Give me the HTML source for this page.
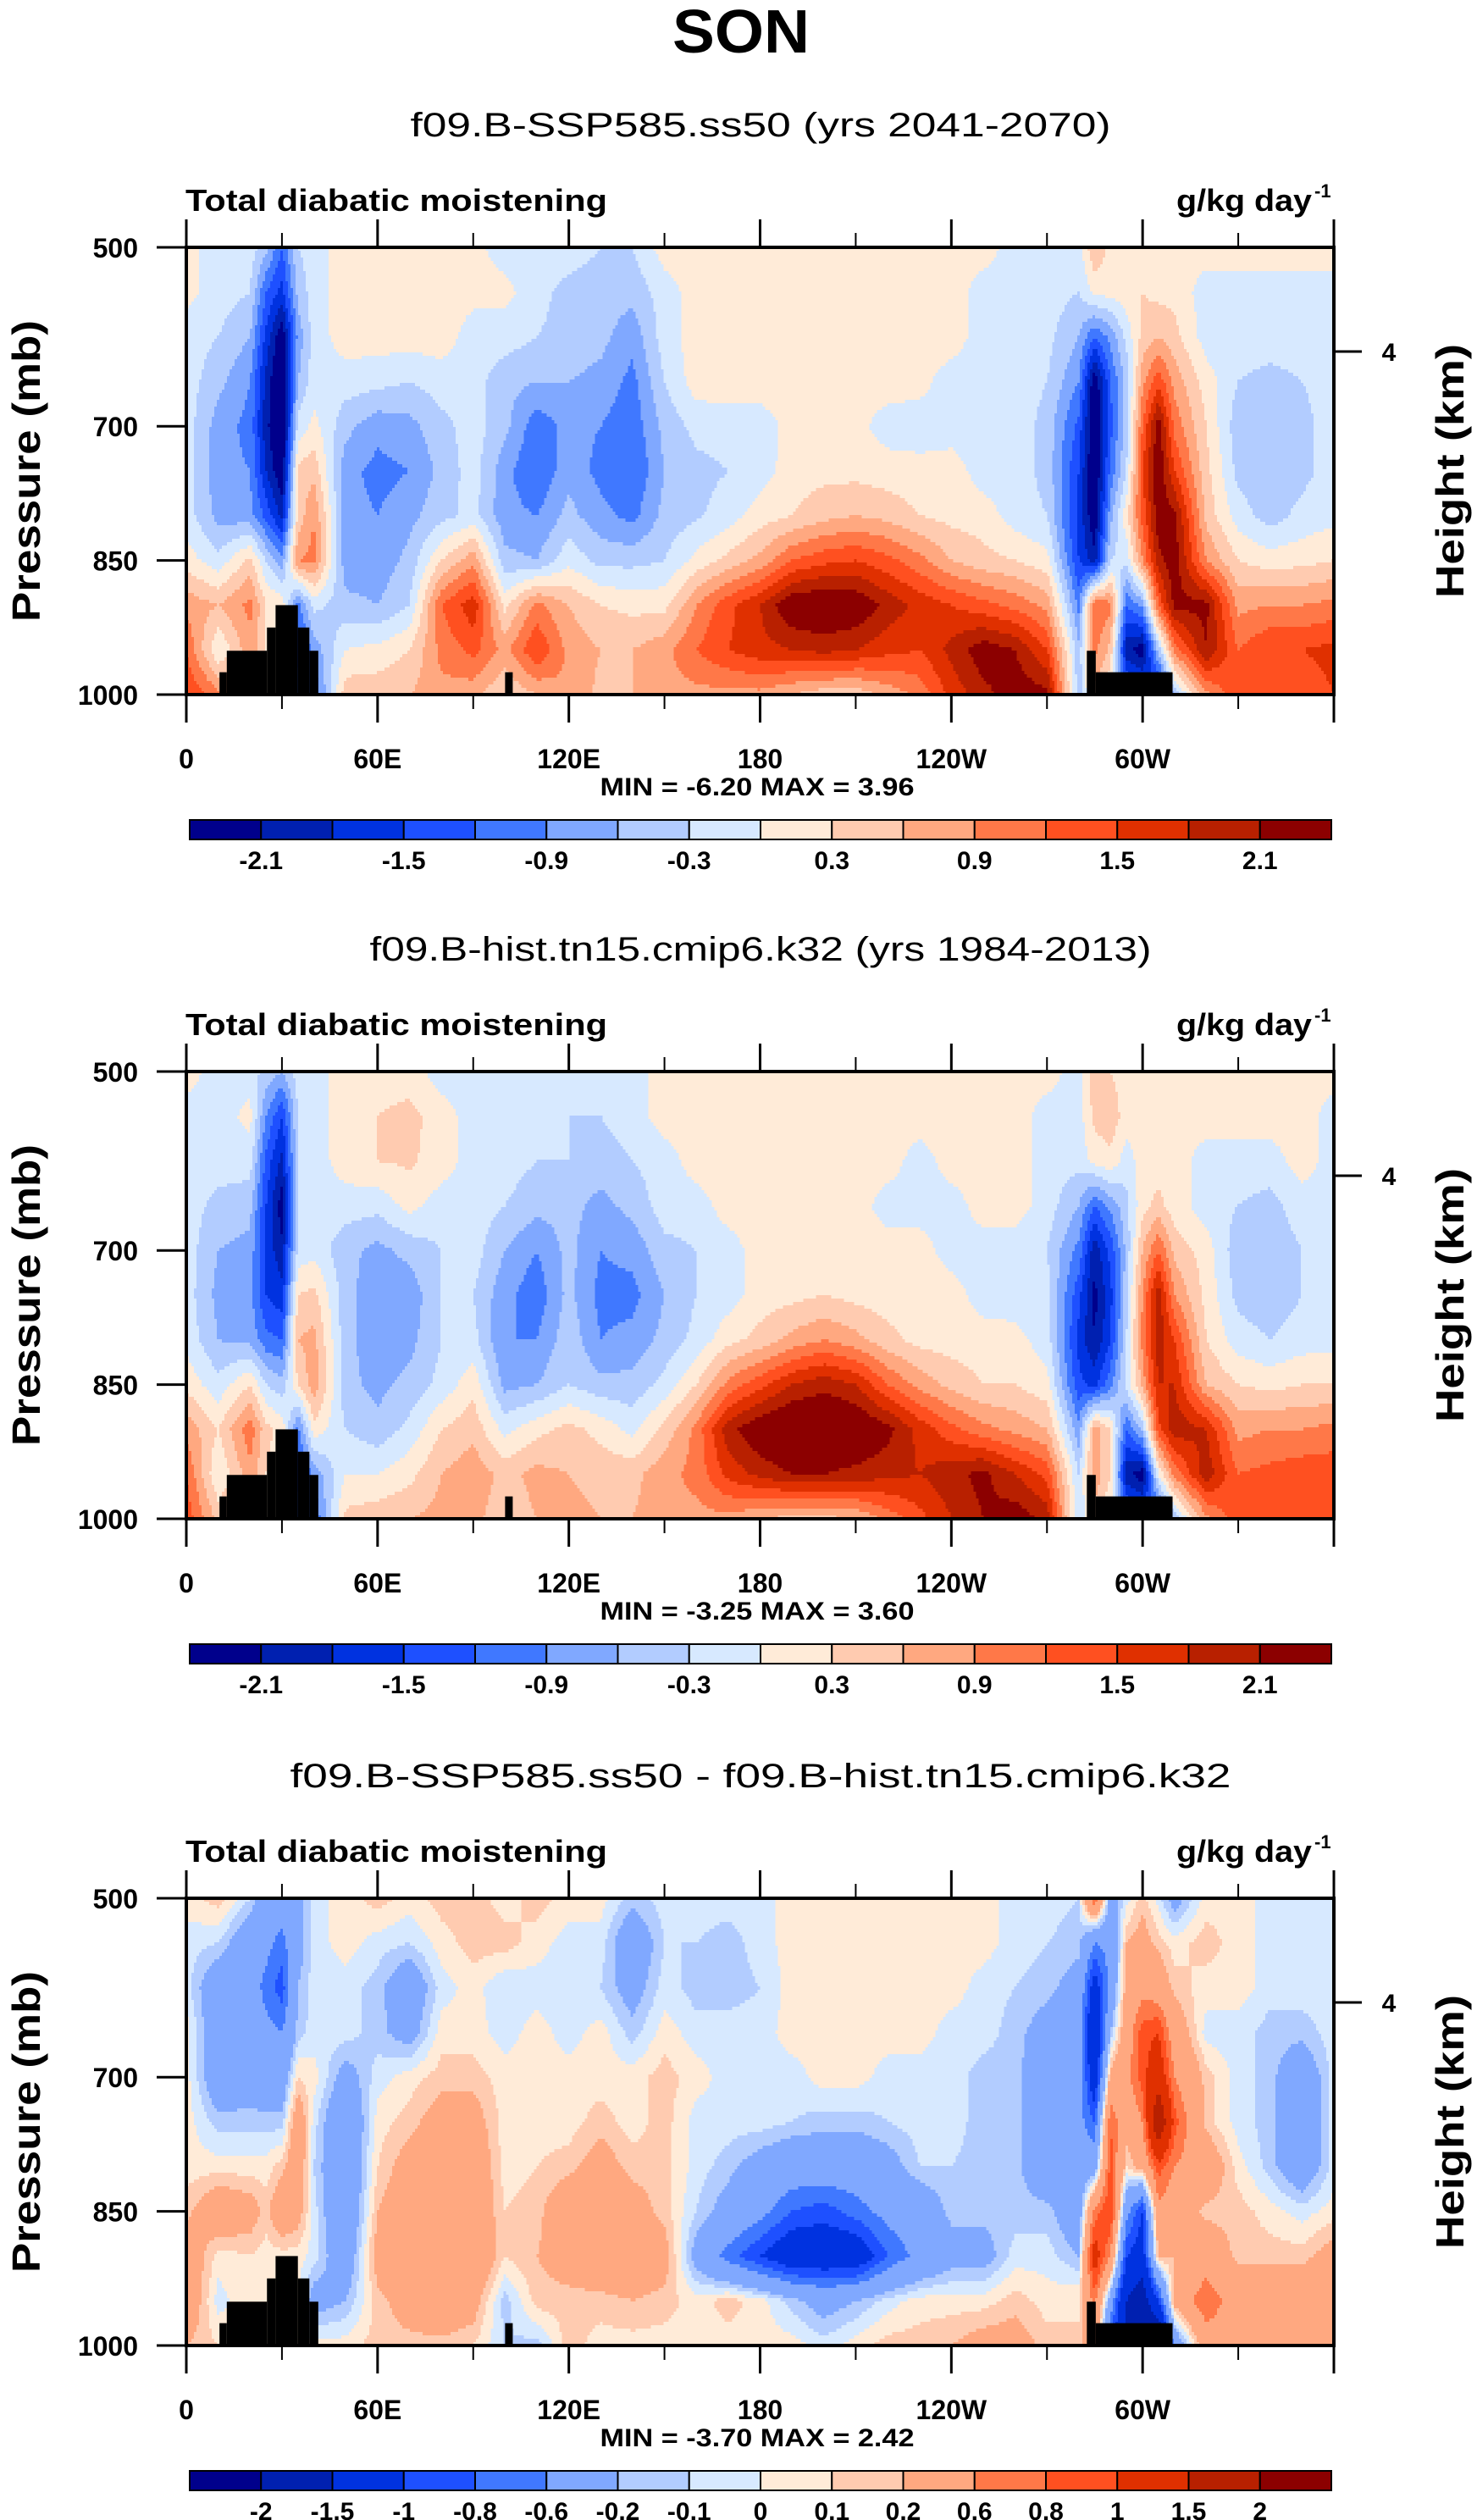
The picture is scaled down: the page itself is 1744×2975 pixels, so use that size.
<!DOCTYPE html>
<html><head><meta charset="utf-8"><title>SON Total diabatic moistening</title>
<style>
html,body{margin:0;padding:0;background:#fff;}
svg{display:block;font-family:"Liberation Sans",Arial,sans-serif;}
</style></head>
<body>
<svg id="fig" xmlns="http://www.w3.org/2000/svg" width="1744" height="2975" viewBox="0 0 1744 2975">
<rect x="0" y="0" width="1744" height="2975" fill="#fff"/>
<text x="875" y="62" text-anchor="middle" font-size="72" font-weight="bold" textLength="162" lengthAdjust="spacingAndGlyphs">SON</text>
</svg>
<script>
// ---------- data ----------
const LONS = [0,10,20,25,30,35,40,50,60,70,80,90,100,110,120,130,140,150,160,170,180,190,200,210,220,230,240,250,260,270,280,285,290,295,300,305,310,320,330,340,350,360];
const LEVELS = [500,550,600,650,700,750,800,850,900,950,1000];
const p1Data = [
[0.1,0.1,-0.15,-0.15,-0.15,-0.15,-0.15,0.15,0.8,1.2,1.5],
[-0.15,-0.15,-0.3,-0.5,-0.75,-0.8,-0.7,-0.2,0.6,0.0,1.0],
[-0.15,-0.3,-0.6,-0.9,-1.0,-0.9,-0.8,0.4,1.0,0.8,0.8],
[-0.5,-1.2,-1.6,-1.9,-2.0,-1.8,-1.3,-0.3,0.3,0.3,0.3],
[-1.2,-1.6,-2.4,-2.6,-2.6,-2.4,-1.9,-0.8,0.2,0.0,0.0],
[-0.3,-0.5,-0.8,-0.6,-0.2,0.4,0.4,0.9,-1.0,-1.5,-1.0],
[-0.15,-0.15,-0.15,-0.15,0.1,0.5,0.9,1.0,-0.2,-0.8,-1.2],
[0.15,0.15,0.15,-0.15,-0.5,-0.8,-0.8,-0.8,-0.5,0.0,0.5],
[0.15,0.15,0.15,-0.2,-0.8,-1.0,-0.9,-0.8,-0.6,0.1,0.5],
[0.15,0.2,0.15,-0.3,-0.7,-0.9,-0.7,-0.5,-0.3,0.3,0.6],
[0.15,0.15,0.15,-0.15,-0.4,-0.5,-0.4,0.3,1.2,1.0,0.8],
[0.1,0.1,-0.15,-0.15,-0.15,-0.15,-0.2,0.8,1.7,1.3,0.7],
[-0.15,0.1,-0.15,-0.5,-0.5,-0.8,-0.8,-0.5,0.2,0.8,0.3],
[-0.15,-0.2,-0.3,-0.6,-1.1,-1.2,-0.9,-0.6,1.0,1.5,0.6],
[-0.15,-0.4,-0.4,-0.6,-0.8,-0.7,-0.5,-0.1,0.6,0.8,0.9],
[-0.3,-0.45,-0.5,-0.7,-0.9,-1.0,-0.8,-0.4,0.3,0.6,0.5],
[-0.3,-0.5,-0.8,-1.0,-1.1,-1.2,-1.0,-0.4,0.2,0.6,0.6],
[0.15,-0.15,-0.15,-0.3,-0.5,-0.6,-0.5,-0.3,0.2,0.8,0.8],
[0.15,0.15,0.15,0.15,-0.2,-0.4,-0.35,0.1,0.9,1.2,0.8],
[0.15,0.15,0.15,0.15,-0.15,-0.3,-0.15,0.4,1.4,1.5,0.8],
[0.15,0.15,0.15,0.15,-0.15,-0.15,0.15,0.7,1.8,1.7,0.8],
[0.15,0.15,0.15,0.15,0.1,0.15,0.3,1.2,2.4,1.8,0.6],
[0.15,0.15,0.15,0.15,0.1,0.2,0.5,1.4,2.5,1.9,0.4],
[0.15,0.15,0.15,0.15,0.1,0.2,0.6,1.5,2.4,1.8,0.4],
[0.15,0.15,0.15,0.15,-0.15,0.15,0.5,1.3,2.0,1.6,0.7],
[0.15,0.15,0.15,0.1,-0.15,0.1,0.3,1.0,1.7,1.5,1.0],
[0.15,0.15,0.15,-0.15,-0.15,0.15,0.2,0.6,1.5,1.9,1.6],
[0.15,-0.15,-0.15,-0.15,-0.15,-0.15,0.15,0.4,1.3,2.3,2.0],
[-0.15,-0.15,-0.15,-0.15,-0.15,-0.15,-0.15,0.3,1.1,2.1,2.3],
[-0.15,-0.15,-0.2,-0.3,-0.4,-0.4,-0.3,0.1,0.8,1.5,2.2],
[-0.15,-0.3,-0.6,-0.9,-1.3,-1.5,-1.6,-1.5,-1.0,-0.5,-0.5],
[0.6,0.1,-1.2,-2.4,-2.5,-2.5,-2.4,-2.0,1.2,1.0,0.5],
[0.2,0.1,-0.8,-1.2,-1.3,-1.1,-0.7,-0.3,1.0,0.5,0.0],
[0.15,0.2,-0.2,-0.5,-0.4,-0.3,0.2,-0.2,-1.2,-2.0,-1.0],
[0.2,0.3,0.4,0.8,1.2,1.5,1.3,0.9,-0.8,-2.3,-1.2],
[0.15,0.2,0.6,1.4,2.3,2.4,2.3,2.0,1.2,-0.5,-2.0],
[0.15,0.2,0.4,0.8,1.1,1.5,2.2,2.3,2.2,1.0,-0.5],
[0.15,-0.15,-0.15,0.15,0.3,0.4,0.5,0.9,2.2,2.1,0.8],
[0.15,-0.15,-0.15,-0.3,-0.5,-0.4,-0.15,0.3,0.8,1.2,1.5],
[0.15,-0.15,-0.15,-0.4,-0.5,-0.5,-0.45,0.15,0.9,1.5,1.4],
[0.15,-0.15,-0.15,-0.3,-0.4,-0.4,-0.2,0.2,0.9,1.5,1.3],
[0.15,-0.15,-0.15,-0.15,-0.15,-0.15,-0.1,0.3,1.0,1.6,1.5]
];
const p2Data = [
[0.15,-0.15,-0.15,-0.15,-0.15,-0.15,-0.1,0.2,0.8,1.2,1.4],
[-0.15,-0.15,-0.15,-0.4,-0.6,-0.7,-0.6,-0.2,0.3,0.0,0.5],
[-0.15,0.1,-0.15,-0.5,-0.7,-0.8,-0.7,0.3,1.1,0.8,0.8],
[-0.4,-0.9,-1.3,-1.5,-1.6,-1.5,-1.1,-0.3,0.4,0.3,0.3],
[-0.6,-1.5,-1.9,-2.3,-2.0,-1.7,-1.2,-0.5,0.2,0.0,0.0],
[-0.15,-0.3,-0.3,-0.3,-0.2,0.3,0.6,0.3,-1.0,-1.5,-1.0],
[-0.15,-0.15,-0.15,-0.15,-0.1,0.4,0.7,0.8,0.2,-0.8,-1.2],
[0.15,0.15,0.15,-0.15,-0.5,-0.5,-0.5,-0.5,-0.3,0.0,0.4],
[0.15,0.3,0.3,-0.2,-0.7,-0.8,-0.8,-0.7,-0.5,0.0,0.5],
[0.15,0.4,0.35,0.1,-0.5,-0.8,-0.7,-0.5,-0.2,0.2,0.6],
[-0.15,0.15,0.15,-0.15,-0.3,-0.3,-0.3,-0.2,0.3,0.6,0.7],
[-0.15,-0.15,-0.15,-0.15,-0.15,-0.3,-0.2,0.2,0.5,0.8,0.7],
[-0.3,-0.15,-0.15,-0.3,-0.6,-0.8,-0.9,-0.7,-0.1,0.5,0.4],
[-0.15,-0.15,-0.3,-0.5,-0.9,-1.1,-0.9,-0.6,0.2,0.7,0.6],
[-0.15,-0.3,-0.3,-0.5,-0.5,-0.5,-0.4,-0.3,0.4,0.6,0.7],
[-0.3,-0.3,-0.45,-0.7,-0.9,-1.0,-0.9,-0.5,0.2,0.5,0.6],
[-0.15,-0.15,-0.3,-0.5,-0.8,-1.0,-0.8,-0.5,-0.1,0.5,0.6],
[0.15,0.15,-0.15,-0.15,-0.4,-0.6,-0.5,-0.2,0.4,0.8,0.8],
[0.15,0.15,0.15,-0.15,-0.3,-0.3,-0.2,0.3,1.0,1.0,0.8],
[0.15,0.15,0.15,0.15,-0.15,-0.15,0.2,1.0,2.0,1.6,0.8],
[0.15,0.15,0.15,0.15,0.15,0.15,0.4,1.4,2.4,1.9,0.6],
[0.15,0.15,0.15,0.15,0.15,0.2,0.7,1.8,2.6,2.1,0.5],
[0.15,0.15,0.15,0.15,0.15,0.3,0.9,2.0,2.6,2.1,0.5],
[0.15,0.15,0.15,0.15,0.15,0.2,0.7,1.8,2.5,2.0,0.6],
[0.15,0.15,0.15,-0.15,0.15,0.15,0.4,1.2,2.2,1.9,1.0],
[0.15,0.15,-0.15,-0.15,0.15,0.15,0.2,0.8,1.7,1.8,1.4],
[0.15,0.15,0.15,-0.15,-0.15,0.15,0.15,0.5,1.3,2.0,1.8],
[0.15,0.15,0.15,0.15,-0.15,-0.15,0.15,0.3,1.0,2.2,2.1],
[0.15,0.15,0.15,0.15,-0.15,-0.15,0.1,0.3,0.8,1.8,2.3],
[0.15,-0.15,-0.15,-0.15,-0.3,-0.2,-0.15,0.1,0.6,1.4,2.0],
[-0.15,-0.15,-0.2,-0.6,-1.0,-1.4,-1.6,-1.4,-0.8,-0.3,-0.3],
[0.5,0.4,0.1,-1.2,-2.0,-2.2,-2.1,-1.6,0.8,0.8,0.5],
[0.3,0.5,0.2,-0.8,-1.4,-1.6,-1.5,-1.0,0.3,0.3,0.0],
[0.15,0.15,-0.15,-0.4,-0.5,-0.4,-0.3,-0.2,-1.2,-2.0,-1.0],
[0.15,0.15,0.15,0.2,0.6,0.9,1.0,0.7,-0.5,-2.3,-1.2],
[0.15,0.15,0.15,0.4,1.2,2.0,2.0,1.8,1.4,0.0,-1.5],
[0.15,0.15,0.15,0.15,0.5,0.9,1.5,1.8,2.0,1.0,-0.5],
[0.15,0.15,-0.15,-0.15,0.15,0.2,0.3,0.6,1.8,2.0,0.8],
[0.15,0.15,-0.15,-0.3,-0.5,-0.4,-0.15,0.3,0.8,1.2,1.4],
[0.15,0.15,-0.15,-0.4,-0.5,-0.5,-0.3,0.2,0.9,1.3,1.3],
[0.15,0.15,0.15,-0.15,-0.3,-0.3,-0.15,0.3,0.9,1.4,1.3],
[0.15,-0.15,-0.15,-0.15,-0.15,-0.15,-0.1,0.3,1.0,1.4,1.4]
];
const p3Data = [
[0.05,-0.05,-0.05,0.05,0.05,0.05,0.05,0.15,0.4,0.4,0.2],
[0.15,-0.1,-0.4,-0.4,-0.4,-0.15,0.05,0.4,0.05,-0.05,0.1],
[-0.1,-0.4,-0.4,-0.4,-0.3,-0.15,0.05,0.3,0.1,0.1,0.1],
[-0.4,-0.5,-0.7,-0.5,-0.4,-0.15,0.05,0.15,0.05,0.0,0.0],
[-0.4,-0.7,-0.9,-0.6,-0.4,-0.15,0.15,0.4,0.05,0.0,0.0],
[-0.3,-0.3,-0.2,-0.15,0.1,0.4,0.4,0.3,0.05,0.0,0.0],
[-0.05,-0.05,-0.05,-0.05,0.05,-0.05,-0.1,-0.05,-0.05,-0.3,0.05],
[0.05,0.05,-0.05,-0.05,-0.3,-0.5,-0.5,-0.5,-0.4,-0.2,0.05],
[0.15,-0.05,-0.15,-0.15,-0.05,0.05,0.1,0.2,0.3,0.15,0.15],
[0.05,-0.1,-0.4,-0.3,0.05,0.15,0.3,0.4,0.5,0.3,0.15],
[0.15,0.05,-0.05,0.05,0.15,0.3,0.4,0.5,0.6,0.4,0.15],
[0.15,0.15,0.05,0.05,0.15,0.3,0.4,0.4,0.5,0.3,0.1],
[0.05,0.15,-0.1,-0.05,0.05,0.05,0.05,0.1,0.1,-0.15,-0.1],
[0.15,0.05,-0.05,0.05,0.05,0.05,0.1,0.15,0.2,0.15,-0.15],
[0.05,-0.05,-0.1,-0.05,0.05,0.05,0.15,0.4,0.3,0.15,0.15],
[0.05,-0.05,-0.1,0.05,0.05,0.15,0.3,0.4,0.4,0.15,0.05],
[-0.15,-0.4,-0.3,-0.15,0.05,0.05,0.15,0.3,0.4,0.2,0.05],
[-0.05,-0.1,-0.05,0.05,0.15,0.15,0.15,0.15,0.3,0.15,0.05],
[-0.05,-0.1,-0.15,-0.05,0.05,-0.05,-0.05,-0.1,-0.3,0.05,0.05],
[-0.05,-0.15,-0.15,-0.05,-0.05,-0.05,-0.15,-0.3,-0.7,0.15,0.05],
[-0.05,-0.05,-0.1,-0.05,-0.05,-0.05,-0.3,-0.5,-1.0,0.05,0.05],
[0.05,0.05,0.05,0.05,-0.05,-0.1,-0.4,-0.8,-1.3,-0.15,0.05],
[0.05,0.05,0.05,0.05,0.05,-0.15,-0.4,-0.9,-1.3,-0.3,-0.05],
[0.05,0.05,0.05,0.05,0.05,-0.15,-0.4,-0.7,-1.3,-0.2,0.05],
[0.05,0.05,0.05,0.05,-0.05,-0.1,-0.3,-0.5,-0.8,-0.05,0.15],
[0.05,0.05,0.05,0.05,-0.05,-0.05,-0.1,-0.4,-0.5,0.05,0.15],
[0.05,0.05,0.05,-0.05,-0.05,-0.05,-0.1,-0.15,-0.3,0.05,0.2],
[0.05,0.05,-0.05,-0.05,-0.15,-0.15,-0.15,-0.15,-0.3,0.05,0.3],
[-0.05,-0.05,-0.1,-0.15,-0.15,-0.15,-0.15,-0.15,-0.05,0.15,0.3],
[-0.05,-0.1,-0.15,-0.3,-0.4,-0.4,-0.4,-0.15,-0.05,0.05,0.15],
[-0.1,-0.15,-0.3,-0.4,-0.4,-0.5,-0.4,-0.4,-0.2,0.1,0.1],
[0.8,-0.6,-1.2,-1.5,-1.3,-0.8,-0.4,0.7,1.2,0.7,0.5],
[-0.3,-0.5,-0.5,-0.2,0.3,0.8,0.9,1.0,0.6,-0.4,-1.0],
[-0.05,0.2,0.3,0.4,0.5,0.3,0.1,-0.5,-1.0,-1.5,-1.5],
[0.15,0.3,0.5,0.9,0.9,0.6,0.3,-1.0,-1.2,-1.8,-2.0],
[-0.05,0.15,0.4,1.0,1.3,2.0,0.9,0.5,0.2,-1.0,-2.3],
[-0.3,0.05,0.15,0.4,0.6,0.9,0.6,0.4,0.2,0.3,-0.5],
[0.05,0.15,0.05,-0.05,0.15,0.15,0.4,0.15,0.4,0.8,0.4],
[0.05,0.05,0.05,-0.05,-0.05,-0.05,0.05,0.15,0.15,0.4,0.4],
[-0.05,-0.05,-0.05,-0.15,-0.15,-0.15,-0.15,0.05,0.15,0.4,0.4],
[-0.05,-0.05,-0.05,-0.15,-0.4,-0.4,-0.4,-0.05,0.15,0.4,0.4],
[-0.05,-0.05,-0.05,-0.05,-0.05,-0.05,-0.05,0.05,0.3,0.4,0.4]
];
const levelsA = [-2.1,-1.8,-1.5,-1.2,-0.9,-0.6,-0.3,0,0.3,0.6,0.9,1.2,1.5,1.8,2.1];
const labelsA = ['-2.1','','-1.5','','-0.9','','-0.3','','0.3','','0.9','','1.5','','2.1'];
const levelsB = [-2,-1.5,-1,-0.8,-0.6,-0.2,-0.1,0,0.1,0.2,0.6,0.8,1,1.5,2];
const labelsB = ['-2','-1.5','-1','-0.8','-0.6','-0.2','-0.1','0','0.1','0.2','0.6','0.8','1','1.5','2'];
const COLORS = ['#00008c','#0020b0','#0032e0','#1e50ff','#4078ff','#80a8ff','#b2ccff','#d7e9ff','#ffebd8','#ffcbb0','#ffa880','#ff7848','#ff5020','#e03000','#b82000','#8c0000'];
const xTickLons = [0,60,120,180,240,300];
const xTickLabels = ['0','60E','120E','180','120W','60W'];
const minorLons = [30,90,150,210,270,330];
const yTickP = [500,700,850,1000];
const yTickLabels = ['500','700','850','1000'];
const heightTickFrac = [0.233];
const heightTickLabels = ['4'];
const TOPO = [[10.4,12.7,975],[12.7,25.3,951],[25.3,28,925],[28,35,900],[35,38.6,925],[38.6,41.4,951],[100,102.4,975],[282.5,285.3,951],[285.3,309.4,975]];
const titles = ['f09.B-SSP585.ss50 (yrs 2041-2070)','f09.B-hist.tn15.cmip6.k32 (yrs 1984-2013)','f09.B-SSP585.ss50 - f09.B-hist.tn15.cmip6.k32'];
const titleWidths = [827,923,1111];
const minmax = ['MIN =  -6.20   MAX =    3.96','MIN =  -3.25   MAX =    3.60','MIN =  -3.70   MAX =    2.42'];

// ---------- rendering ----------
const NS='http://www.w3.org/2000/svg';
const svg=document.getElementById('fig');
const PX0=220, PW=1355, PH=528;
const OFFS=[0,973,1949];
function mk(tag,attrs,parent){const e=document.createElementNS(NS,tag);for(const k in attrs)e.setAttribute(k,attrs[k]);(parent||svg).appendChild(e);return e;}
function xS(lon){return PX0+lon/360*PW;}
function yS(top,p){return top+(p-500)/500*PH;}
function interp(data,lon,p){
  let i=0;while(i<LONS.length-2&&LONS[i+1]<lon)i++;
  const tx=Math.min(1,Math.max(0,(lon-LONS[i])/(LONS[i+1]-LONS[i])));
  let fj=(p-500)/50;let j=Math.min(LEVELS.length-2,Math.max(0,Math.floor(fj)));const ty=Math.min(1,Math.max(0,fj-j));
  const a=data[i][j],b=data[i+1][j],c=data[i][j+1],d=data[i+1][j+1];
  return (a*(1-tx)+b*tx)*(1-ty)+(c*(1-tx)+d*tx)*ty;
}
function cidx(v,lev){let k=0;while(k<lev.length&&v>=lev[k])k++;return k;}

function panel(n,data,lev,labs){
  const off=OFFS[n], top=292+off;
  const g=mk('g',{});
  
  
  const t=mk('text',{x:898,y:161+off,'text-anchor':'middle','font-size':40,textLength:titleWidths[n],lengthAdjust:'spacingAndGlyphs'},g);
  
  
  t.textContent=titles[n];
  const ls=mk('text',{x:219,y:249+off,'font-size':36,'font-weight':'bold',textLength:498,lengthAdjust:'spacingAndGlyphs'},g);
  
  
  ls.textContent='Total diabatic moistening';
  const rs=mk('text',{x:1389,y:249+off,'font-size':36,'font-weight':'bold',textLength:160,lengthAdjust:'spacingAndGlyphs'},g);
  
  
  rs.textContent='g/kg day';
  const sup=mk('text',{x:1552,y:233+off,'font-size':22,'font-weight':'bold'},g);
  
  
  sup.textContent='-1';
  // field
  const fg=mk('g',{'shape-rendering':'crispEdges'},g);
  
  
  const NX=452, NY=132, cw=PW/NX, ch=PH/NY;
  for(let r=0;r<NY;r++){
    const p=500+(r+0.5)/NY*500;
    let start=0, cur=-1;
    for(let c=0;c<=NX;c++){
      let k=-2;
      if(c<NX){const lon=(c+0.5)/NX*360;k=cidx(interp(data,lon,p),lev);}
      if(k!==cur){
        if(cur>=0){
          const rc=mk('rect',{x:(PX0+start*cw).toFixed(2),y:(top+r*ch).toFixed(2),width:((c-start)*cw+0.6).toFixed(2),height:(ch+0.6).toFixed(2),fill:COLORS[cur]},fg);
          
          
        }
        cur=k;start=c;
      }
    }
  }
  // topography
  TOPO.forEach(tp=>{
    const r=mk('rect',{x:xS(tp[0]),y:yS(top,tp[2]),width:xS(tp[1])-xS(tp[0]),height:yS(top,1000)-yS(top,tp[2]),fill:'#000'},g);
    
    
  });
  // frame
  const fr=mk('rect',{x:PX0,y:top,width:PW,height:PH,fill:'none',stroke:'#000','stroke-width':4},g);
  
  
  // x ticks
  xTickLons.concat([360]).forEach(l=>{
    const x=xS(l);
    const a=mk('line',{x1:x,x2:x,y1:top,y2:top-33,stroke:'#000','stroke-width':3},g);
    
    
    const b=mk('line',{x1:x,x2:x,y1:top+PH,y2:top+PH+33,stroke:'#000','stroke-width':3},g);
    
    
  });
  minorLons.forEach(l=>{
    const x=xS(l);
    const a=mk('line',{x1:x,x2:x,y1:top,y2:top-17,stroke:'#000','stroke-width':2},g);
    
    
    const b=mk('line',{x1:x,x2:x,y1:top+PH,y2:top+PH+17,stroke:'#000','stroke-width':2},g);
    
    
  });
  xTickLons.forEach((l,i)=>{
    const tx=mk('text',{x:xS(l),y:top+PH+87,'text-anchor':'middle','font-size':32,'font-weight':'bold'},g);
    
    
    tx.textContent=xTickLabels[i];
  });
  // y ticks
  yTickP.forEach((p,i)=>{
    const y=yS(top,p);
    const a=mk('line',{x1:PX0-35,x2:PX0,y1:y,y2:y,stroke:'#000','stroke-width':3},g);
    
    
    const tx=mk('text',{x:163,y:y+12,'text-anchor':'end','font-size':32,'font-weight':'bold'},g);
    
    
    tx.textContent=yTickLabels[i];
  });
  heightTickFrac.forEach((f,i)=>{
    const y=top+f*PH;
    const a=mk('line',{x1:PX0+PW,x2:PX0+PW+33,y1:y,y2:y,stroke:'#000','stroke-width':3},g);
    
    
    const tx=mk('text',{x:1640,y:y+11,'text-anchor':'middle','font-size':30,'font-weight':'bold'},g);
    
    
    tx.textContent=heightTickLabels[i];
  });
  const cy=top+PH/2;
  const yl=mk('text',{x:0,y:0,'text-anchor':'middle','font-size':46,'font-weight':'bold',transform:`translate(47,${cy}) rotate(-90)`,textLength:356,lengthAdjust:'spacingAndGlyphs'},g);
  
  
  yl.textContent='Pressure (mb)';
  const hl=mk('text',{x:0,y:0,'text-anchor':'middle','font-size':46,'font-weight':'bold',transform:`translate(1728,${cy}) rotate(-90)`,textLength:300,lengthAdjust:'spacingAndGlyphs'},g);
  
  
  hl.textContent='Height (km)';
  const mm=mk('text',{x:894,y:939+off,'text-anchor':'middle','font-size':30,'font-weight':'bold',textLength:371,lengthAdjust:'spacingAndGlyphs','xml:space':'preserve'},g);
  
  
  mm.textContent=minmax[n];
  // colorbar
  const cbTop=968+off, cbL=224, cbW=1348, cbH=23, bw=cbW/16;
  const cb=mk('g',{},g);
  
  
  COLORS.forEach((c,i)=>{
    const r=mk('rect',{x:cbL+i*bw,y:cbTop,width:bw,height:cbH,fill:c,stroke:'#000','stroke-width':2},cb);
    
    
  });
  labs.forEach((l,i)=>{
    if(!l)return;
    const tx=mk('text',{x:cbL+(i+1)*bw,y:cbTop+58,'text-anchor':'middle','font-size':30,'font-weight':'bold'},cb);
    
    
    tx.textContent=l;
  });
}
panel(0,p1Data,levelsA,labelsA);
panel(1,p2Data,levelsA,labelsA);
panel(2,p3Data,levelsB,labelsB);
</script>
</body></html>
